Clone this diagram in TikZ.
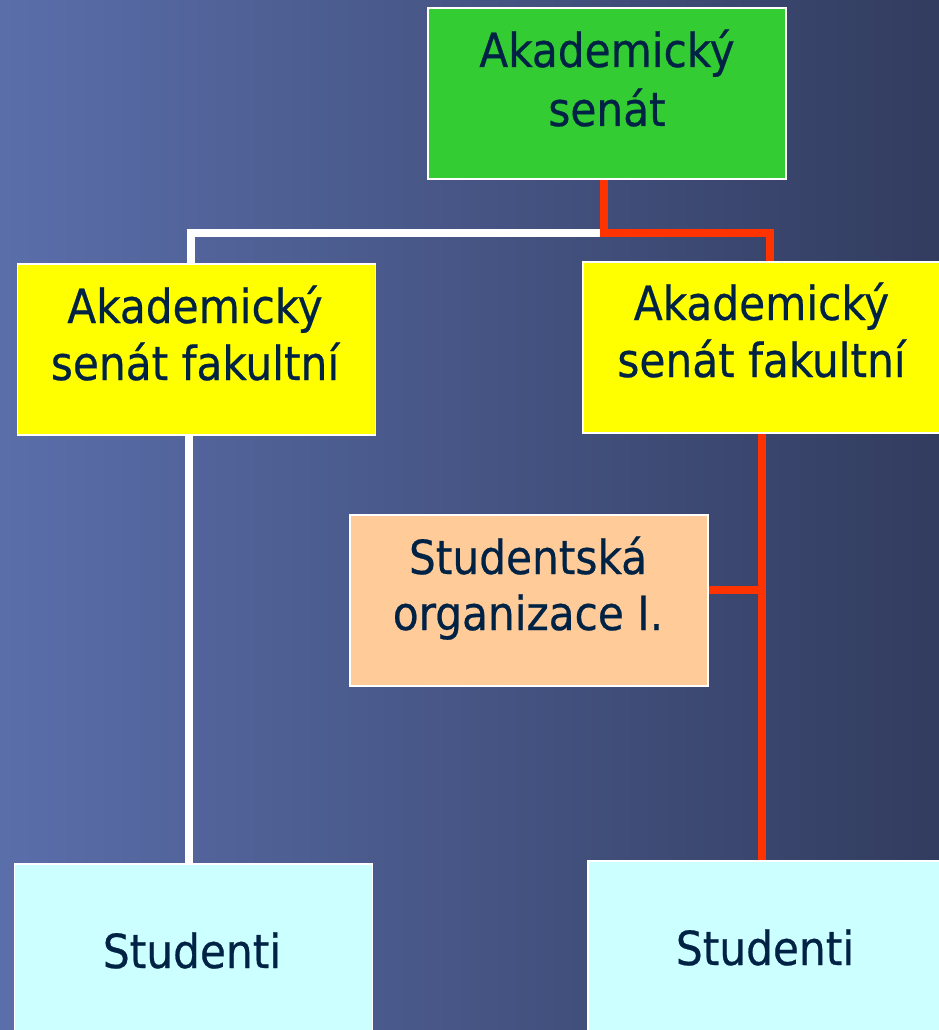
\documentclass[tikz,border=0pt]{standalone}
\usepackage{fontspec}
\setmainfont[FakeBold=0.5]{DejaVu Sans Condensed}
\definecolor{bgL}{RGB}{90,110,170}
\definecolor{bgR}{RGB}{50,60,95}
\definecolor{navy}{RGB}{0,34,68}
\definecolor{redline}{RGB}{255,51,0}
\definecolor{boxgreen}{RGB}{51,204,51}
\definecolor{boxyellow}{RGB}{255,255,0}
\definecolor{boxorange}{RGB}{255,204,153}
\definecolor{boxcyan}{RGB}{204,255,255}
\begin{document}
\begin{tikzpicture}[x=1pt,y=-1pt,
  box/.style={rectangle, draw=white, line width=1.2pt, minimum width=358pt, minimum height=171pt, inner sep=0pt},
  txt/.style={anchor=base, inner sep=0pt, text=navy, font=\fontsize{47}{57}\selectfont},
  wline/.style={draw=white, line width=8pt},
  rline/.style={draw=redline, line width=8pt}]
\useasboundingbox (0,0) rectangle (939,1030);
\fill[left color=bgL, right color=bgR] (0,0) rectangle (939,1030);

\node[box, fill=boxgreen] (top) at (607,93.5) {};
\node[box, fill=boxyellow] (ly) at (196.5,349.5) {};
\node[box, fill=boxyellow] (ry) at (762,347.5) {};
\node[box, fill=boxorange] (org) at (529,600.5) {};
\node[box, fill=boxcyan] (ls) at (193.5,949.5) {};
\node[box, fill=boxcyan] (rs) at (767,946.5) {};

\node[txt] (topA) at (607,67) {Akademický};
\node[txt] (topB) at (607,126) {senát};
\node[txt] (lyA) at (195,323) {Akademický};
\node[txt] (lyB) at (195,380) {senát fakultní};
\node[txt] (ryA) at (761.5,320) {Akademický};
\node[txt] (ryB) at (761.5,377) {senát fakultní};
\node[txt] (orgA) at (528,574) {Studentská};
\node[txt] (orgB) at (528,630) {organizace I.};
\node[txt] (lsA) at (192,968) {Studenti};
\node[txt] (rsA) at (765,965) {Studenti};

\coordinate (j) at (604,232.5);
\coordinate (oj) at (762,590);
\draw[wline] ([xshift=-5.5pt]ly.north) |- (j);
\draw[rline] ([xshift=-3pt]top.south) -- (j) -| ([xshift=7.5pt]ry.north);
\draw[wline] ([xshift=-7.5pt]ly.south) -- ([xshift=-7.5pt]ly.south |- ls.north);
\draw[rline] (ry.south) -- (ry.south |- rs.north);
\draw[rline] (org.east |- oj) -- (oj);
\end{tikzpicture}
\end{document}
